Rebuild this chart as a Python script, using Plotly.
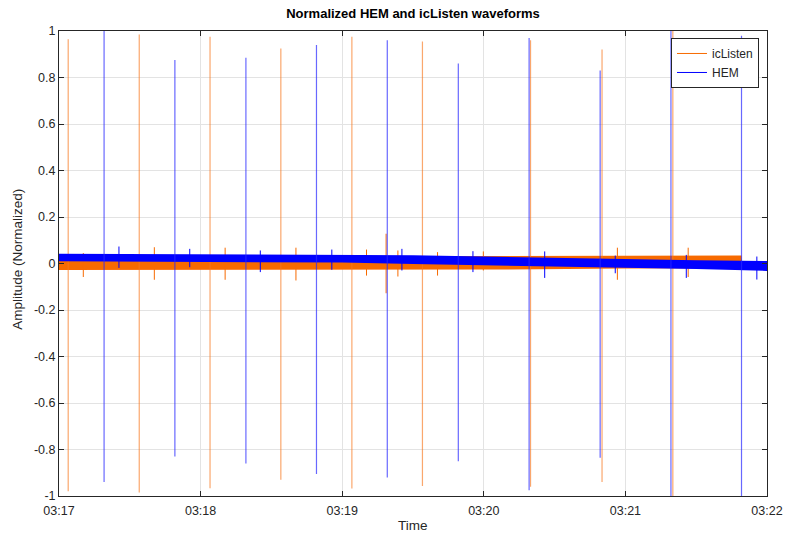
import pandas as pd
import plotly.graph_objects as go

T0 = pd.Timestamp("2021-01-01 03:17:00")
T_END = pd.Timestamp("2021-01-01 03:22:00")

# ---- icListen (orange) : large spikes (seconds after 03:17:00), tops, bottoms
ic_spike_t = [3.9, 34.0, 64.0, 94.0, 124.1, 154.0, 199.8, 230.1, 260.1]
ic_spike_top = [0.965, 0.985, 0.975, 0.925, 0.975, 0.955, 0.96, 0.92, 1.0]
ic_spike_bot = [-0.98, -0.985, -0.967, -0.93, -0.968, -0.957, -0.96, -0.94, -1.0]
# small spikes
ic_small_t = [10.3, 40.4, 70.4, 100.4, 130.3, 138.6, 143.6, 160.4, 179.8, 236.6, 266.6]
ic_small_top = [0.045, 0.07, 0.068, 0.068, 0.06, 0.128, 0.056, 0.049, 0.052, 0.068, 0.068]
ic_small_bot = [-0.058, -0.07, -0.07, -0.073, -0.052, -0.128, -0.056, -0.052, -0.03, -0.07, -0.058]
# noise envelope
ic_env_t = [0, 60, 120, 180, 240, 289.2, 289.4, 300]
ic_env_hi = [0.028, 0.029, 0.030, 0.031, 0.033, 0.034, 0.005, 0.005]
ic_env_lo = [-0.028, -0.028, -0.028, -0.026, -0.022, -0.020, -0.002, -0.002]

# ---- HEM (blue)
hem_spike_t = [19.1, 49.1, 79.2, 109.1, 139.1, 169.2, 199.2, 229.3, 259.3, 289.2]
hem_spike_top = [1.0, 0.875, 0.885, 0.94, 0.96, 0.86, 0.97, 0.83, 1.0, 0.98]
hem_spike_bot = [-0.94, -0.83, -0.86, -0.905, -0.92, -0.85, -0.975, -0.835, -1.0, -1.0]
hem_small_t = [25.4, 55.4, 85.3, 115.6, 145.3, 175.4, 205.8, 235.7, 265.8, 295.7]
hem_small_top = [0.073, 0.063, 0.056, 0.06, 0.063, 0.053, 0.052, 0.034, 0.037, 0.03]
hem_small_bot = [-0.019, -0.016, -0.037, -0.027, -0.03, -0.037, -0.062, -0.042, -0.062, -0.069]
hem_env_t = [0, 60, 120, 150, 180, 210, 240, 270, 300]
hem_env_hi = [0.042, 0.040, 0.038, 0.036, 0.030, 0.024, 0.018, 0.014, 0.011]
hem_env_lo = [0.010, 0.008, 0.004, -0.002, -0.007, -0.012, -0.018, -0.024, -0.032]

y_ticks = [-1, -0.8, -0.6, -0.4, -0.2, 0, 0.2, 0.4, 0.6, 0.8, 1]
y_tick_text = ["-1", "-0.8", "-0.6", "-0.4", "-0.2", "0", "0.2", "0.4", "0.6", "0.8", "1"]

ORANGE = "#F76A00"
BLUE = "#0000FF"


def ts(sec_list):
    return [T0 + pd.Timedelta(seconds=s) for s in sec_list]


def segments(t_list, top, bot):
    xs, ys = [], []
    for t, a, b in zip(t_list, top, bot):
        tt = T0 + pd.Timedelta(seconds=t)
        xs += [tt, tt, None]
        ys += [b, a, None]
    return xs, ys


fig = go.Figure()


def add_series(name, color, spike_rgba, env_t, env_lo, env_hi, st, stop, sbot, smt, smtop, smbot):
    fig.add_trace(go.Scatter(x=ts(env_t), y=env_lo, mode="lines", line=dict(width=0, color=color),
                             showlegend=False, hoverinfo="skip"))
    fig.add_trace(go.Scatter(x=ts(env_t), y=env_hi, mode="lines", line=dict(width=0, color=color),
                             fill="tonexty", fillcolor=color, showlegend=False, hoverinfo="skip"))
    xs, ys = segments(smt, smtop, smbot)
    fig.add_trace(go.Scatter(x=xs, y=ys, mode="lines", line=dict(width=1, color=color),
                             showlegend=False, hoverinfo="skip"))
    xs, ys = segments(st, stop, sbot)
    fig.add_trace(go.Scatter(x=xs, y=ys, mode="lines", line=dict(width=1.2, color=spike_rgba),
                             showlegend=False, hoverinfo="skip"))
    fig.add_trace(go.Scatter(x=[None], y=[None], mode="lines", line=dict(width=1, color=color), name=name))


add_series("icListen", ORANGE, "rgba(247,120,30,0.65)", ic_env_t, ic_env_lo, ic_env_hi,
           ic_spike_t, ic_spike_top, ic_spike_bot, ic_small_t, ic_small_top, ic_small_bot)
add_series("HEM", BLUE, "rgba(40,40,255,0.7)", hem_env_t, hem_env_lo, hem_env_hi,
           hem_spike_t, hem_spike_top, hem_spike_bot, hem_small_t, hem_small_top, hem_small_bot)

FONT = "Liberation Sans, Arial, Helvetica, sans-serif"
AX = "#262626"
GRID = "#E3E3E3"

fig.update_layout(
    width=785, height=535,
    margin=dict(l=59, r=18, t=31, b=39, autoexpand=False),
    paper_bgcolor="white", plot_bgcolor="white",
    font=dict(family=FONT, size=12.5, color=AX),
    title=dict(text="<b>Normalized HEM and icListen waveforms</b>", x=0.5, xanchor="center",
               xref="paper", y=1 - 13 / 535, yanchor="middle", font=dict(size=13, color="black")),
    showlegend=True,
    legend=dict(x=0.9887, y=0.985, xanchor="right", yanchor="top", bgcolor="white",
                bordercolor=AX, borderwidth=1, font=dict(size=12, color=AX),
                traceorder="normal", tracegroupgap=0, itemwidth=30),
    annotations=[
        dict(text="Time", xref="paper", yref="paper", x=0.5, y=-0.0624, xanchor="center",
             yanchor="middle", showarrow=False, font=dict(size=13.5, color=AX)),
        dict(text="Amplitude (Normalized)", xref="paper", yref="paper", x=-0.0579, y=0.508,
             xanchor="center", yanchor="middle", textangle=-90, showarrow=False,
             font=dict(size=13.5, color=AX)),
    ],
)
fig.update_xaxes(
    type="date", range=[T0, T_END], tickformat="%H:%M", dtick=60000,
    showgrid=True, gridcolor=GRID, gridwidth=1, automargin=False,
    showline=True, linecolor=AX, linewidth=1, mirror="ticks",
    ticks="inside", ticklen=5, tickcolor=AX, zeroline=False,
    tickfont=dict(size=12.5, color=AX), ticklabelstandoff=3,
)
fig.update_yaxes(
    range=[-1, 1], tickvals=y_ticks, ticktext=y_tick_text,
    showgrid=True, gridcolor=GRID, gridwidth=1, automargin=False,
    showline=True, linecolor=AX, linewidth=1, mirror="ticks",
    ticks="inside", ticklen=5, tickcolor=AX, zeroline=False,
    tickfont=dict(size=12.5, color=AX),
)

fig.write_html("out.html")
